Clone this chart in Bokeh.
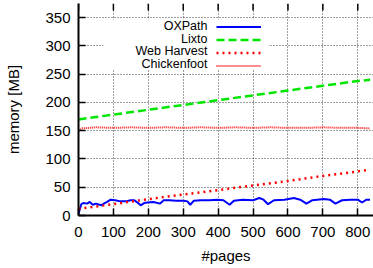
from bokeh.plotting import figure
from bokeh.models import (FixedTicker, Legend, LegendItem, Label, BoxAnnotation, Range1d)
from bokeh.embed import file_html
from bokeh.resources import INLINE

# ---- data ----
oxpath_pages = [0, 8, 14, 25, 32, 41, 50, 65, 75, 82, 92, 105, 120, 135, 149, 160,
                173, 178, 188, 197, 215, 233, 244, 260, 280, 302, 312, 320, 330, 350,
                375, 397, 415, 433, 445, 470, 500, 518, 530, 543, 560, 590, 617, 635,
                653, 670, 703, 720, 736, 755, 780, 800, 812, 825, 835]
oxpath_mem = [3, 20, 22, 21, 24, 19, 21, 18, 22, 24, 28, 27, 25, 25, 27, 27,
              21, 18, 22, 23, 24, 21, 27, 27, 26, 26, 25, 19, 26, 27,
              27, 28, 27, 19, 26, 28, 27, 31, 28, 20, 27, 28, 31, 28,
              21, 27, 29, 28, 21, 27, 28, 28, 23, 28, 28]

lixto_pages = [0, 100, 200, 300, 400, 500, 600, 700, 800, 835]
lixto_mem = [170, 178.5, 187, 195.5, 204, 212.5, 221, 229.5, 238, 240]

webh_pages = [0, 100, 200, 300, 400, 500, 600, 700, 800, 835]
webh_mem = [12, 20, 29, 37, 45, 53, 61, 70, 78, 81]

chick_pages = [0, 10, 50, 100, 150, 200, 250, 300, 350, 400, 450, 500, 550, 600,
               650, 700, 750, 800, 835]
chick_mem = [150, 154, 156, 155, 156, 155, 156, 155, 156, 155, 156, 155, 156, 155,
             155, 156, 155, 155, 154]

series_names = ["OXPath", "Lixto", "Web Harvest", "Chickenfoot"]
x_ticks = [0, 100, 200, 300, 400, 500, 600, 700, 800]
y_ticks = [0, 50, 100, 150, 200, 250, 300, 350]
X_MAX = 845
Y_MAX = 375

FONT = "Liberation Sans"
W, H = 373, 268
BL, BR, BT, BB = 78, 0, 3, 53
FRAME_H = H - BT - BB

p = figure(width=W, height=H, output_backend="svg", toolbar_location=None,
           x_range=Range1d(0, X_MAX), y_range=Range1d(0, Y_MAX),
           min_border_left=BL, min_border_right=BR, min_border_top=BT,
           min_border_bottom=BB)
p.outline_line_color = None
p.background_fill_color = "white"

# axes
for ax in (p.xaxis[0], p.yaxis[0]):
    ax.axis_line_width = 2
    ax.axis_line_color = "black"
    ax.major_tick_in = 7
    ax.major_tick_out = 0
    ax.minor_tick_line_color = None
    ax.major_tick_line_color = "black"
    ax.major_tick_line_width = 1.5
    ax.major_label_text_font = FONT
    ax.major_label_text_font_size = "15px"
    ax.major_label_text_color = "black"
    ax.axis_label_text_font = FONT
    ax.axis_label_text_font_size = "15px"
    ax.axis_label_text_font_style = "normal"
    ax.axis_label_text_color = "black"

p.xaxis[0].ticker = FixedTicker(ticks=x_ticks)
p.yaxis[0].ticker = FixedTicker(ticks=y_ticks)
p.xaxis[0].axis_label = "#pages"
p.yaxis[0].axis_label = "memory [MB]"
p.xaxis[0].major_label_standoff = 11
p.yaxis[0].major_label_standoff = 8
p.xaxis[0].axis_label_standoff = 7
p.yaxis[0].axis_label_standoff = 20

for g in (p.xgrid[0], p.ygrid[0]):
    g.grid_line_color = "black"
    g.grid_line_alpha = 0.75
    g.grid_line_dash = "1 2"
    g.grid_line_width = 1
p.xgrid[0].ticker = FixedTicker(ticks=x_ticks)
p.ygrid[0].ticker = FixedTicker(ticks=y_ticks)

# mirrored tick marks along the (undrawn) top border, 7px long
tick_len = 7 * Y_MAX / FRAME_H
p.segment(x0=x_ticks, y0=[Y_MAX] * len(x_ticks), x1=x_ticks,
          y1=[Y_MAX - tick_len] * len(x_ticks), line_color="black", line_width=1.5)

# series
r1 = p.line(oxpath_pages, oxpath_mem, line_color="#0000ff", line_width=2)
r2 = p.line(lixto_pages, lixto_mem, line_color="#00e600", line_width=2.5,
            line_dash="8 4")
r3 = p.line(webh_pages, webh_mem, line_color="#ff0000", line_width=2.5,
            line_dash="2 4")
r4 = p.line(chick_pages, chick_mem, line_color="#ff0000", line_width=2,
            line_alpha=0.9, line_dash="1 1")

# legend: white box, labels right-aligned to the left of the line samples
box = BoxAnnotation(left=25, right=190, top=196, bottom=146,
                    left_units="screen", right_units="screen",
                    top_units="screen", bottom_units="screen",
                    fill_color="white", fill_alpha=1, line_color=None)
p.add_layout(box)

legend = Legend(items=[LegendItem(label=" ", renderers=[r]) for r in (r1, r2, r3, r4)],
                location=(138, 143), padding=0, margin=0, spacing=0,
                glyph_width=45, glyph_height=13, label_height=13, label_width=1,
                label_standoff=0, label_text_font=FONT, label_text_font_size="12.5px",
                background_fill_alpha=0, border_line_color=None)
p.add_layout(legend)

for i, name in enumerate(series_names):
    p.add_layout(Label(x=129, y=189.5 - i * 12.7, x_units="screen", y_units="screen",
                       text=name, text_align="right", text_baseline="middle",
                       text_font=FONT, text_font_size="12.5px", text_color="black"))

open("out.html", "w").write(file_html(p, INLINE))
